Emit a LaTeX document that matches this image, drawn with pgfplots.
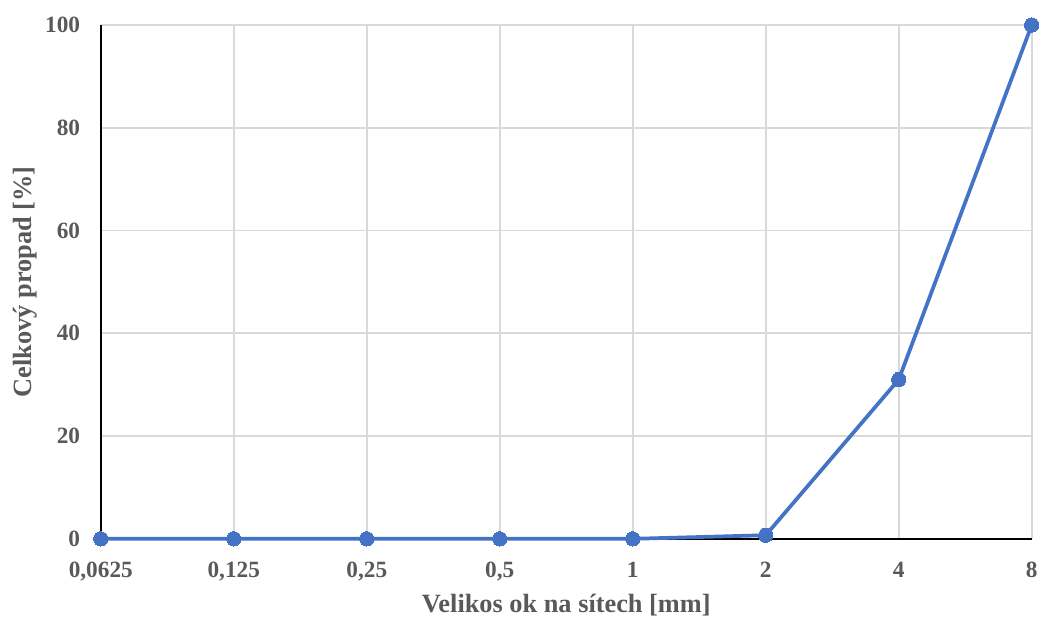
\documentclass[border=0pt]{standalone}
\usepackage{pgfplots}
\pgfplotsset{compat=1.18}
\usepackage{fontspec}
\setmainfont{Liberation Serif}
\definecolor{txtgray}{HTML}{595959}
\definecolor{gridgray}{HTML}{D9D9D9}
\definecolor{seriesblue}{HTML}{4472C4}
\begin{document}
\begin{tikzpicture}
\begin{axis}[
  at={(0,0)}, anchor=south west,
  scale only axis,
  width=699.75pt, height=386.25pt,
  xmin=0, xmax=7, ymin=0, ymax=100,
  xtick={0,1,2,3,4,5,6,7},
  xticklabels={{0,0625},{0,125},{0,25},{0,5},1,2,4,8},
  ytick={0,20,40,60,80,100},
  grid=major,
  major grid style={gridgray, line width=1.2pt},
  axis x line*=bottom, axis y line*=left,
  axis line style={black, line width=1.8pt, -},
  tick style={draw=none},
  ticklabel style={font=\fontsize{17.5pt}{20pt}\selectfont\bfseries, text=txtgray},
  /pgf/number format/assume math mode=true,
  xticklabel style={yshift=-14pt},
  yticklabel style={xshift=-12pt},
  label style={font=\fontsize{19.8pt}{23pt}\selectfont\bfseries, text=txtgray},
  xlabel={Velikos ok na sítech [mm]},
  ylabel={Celkový propad [\%]},
  xlabel style={yshift=-3pt},
  ylabel style={yshift=-1pt},
  clip=false,
]
\addplot[seriesblue, line width=2.8pt, mark=*, mark size=5.4pt,
  mark options={fill=seriesblue, draw=seriesblue, line width=0pt}]
  coordinates {(0,0) (1,0) (2,0) (3,0) (4,0) (5,0.7) (6,31) (7,100)};
\end{axis}
\path[use as bounding box] (-75.75pt,-57.75pt) rectangle (705.75pt,405pt);
\end{tikzpicture}
\end{document}
